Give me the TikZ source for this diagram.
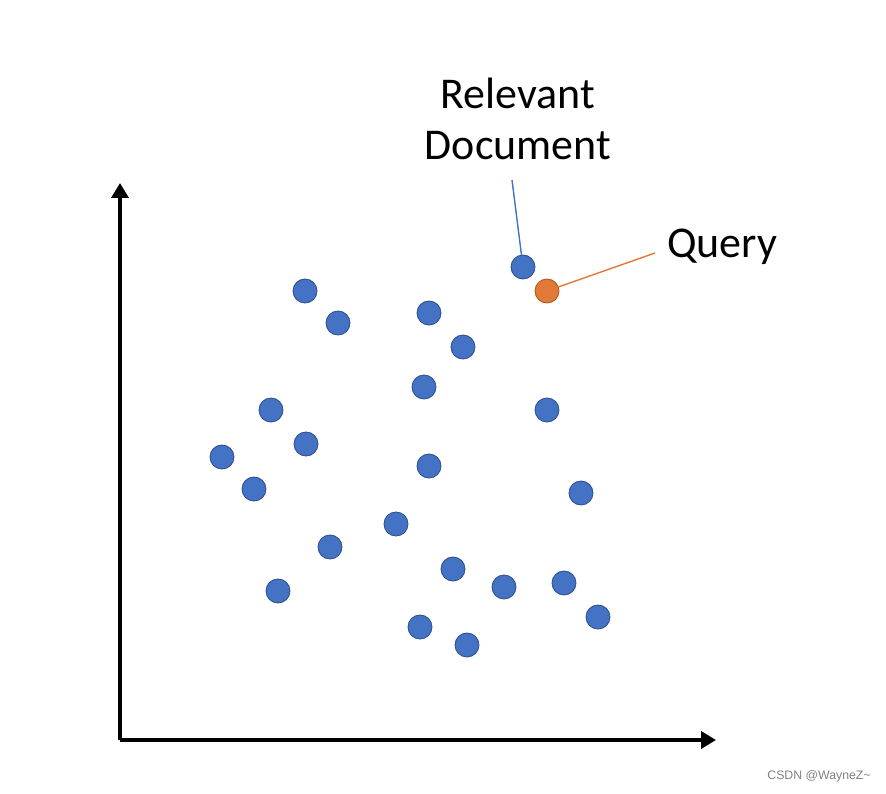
\documentclass[tikz,border=0pt]{standalone}
\usepackage{fontspec}
\setmainfont{Carlito}
\newfontfamily\markfont{Liberation Sans}
\usepackage{tikz}
\usetikzlibrary{positioning,arrows.meta}
\usepackage{xcolor}
\definecolor{docblue}{HTML}{4472C4}
\definecolor{docedge}{HTML}{2F528F}
\definecolor{qorange}{HTML}{E07A36}
\definecolor{qedge}{HTML}{AE5A21}

\begin{document}
\begin{tikzpicture}[
  x=0.02cm, y=-0.02cm,
  doc/.style={circle, draw=docedge, line width=0.5pt, fill=docblue, minimum size=0.48cm, inner sep=0pt},
  qry/.style={doc, draw=qedge, fill=qorange},
  axis/.style={-{Triangle[length=0.3cm,width=0.34cm]}, line width=2.8pt},
  lbl/.style={font=\fontsize{25}{29}\selectfont, align=center, inner sep=0pt},
]
  \useasboundingbox (0,0) rectangle (886,794);

  % axes
  \coordinate (origin) at (120,740);
  \coordinate (ytip)   at (120,183);
  \coordinate (xtip)   at (716,740);
  \draw[axis] (origin) -- (ytip);
  \draw[axis] (origin) -- (xtip);

  % documents
  \foreach \name/\px/\py in {d1/305/291, d2/338/323, d3/429/313, d4/463/347,
      d5/424/387, d6/271/410, d7/547/410, d8/306/444, d9/222/457, d10/429/466,
      d11/254/489, d12/581/493, d13/396/524, d14/330/547, d15/453/569,
      d16/504/587, d17/564/583, d18/278/591, d19/598/617, d20/420/627,
      d21/467/645}
    \node[doc] (\name) at (\px,\py) {};
  \node[doc] (rel)   at (523,267) {};
  \node[qry] (query) at (547,291) {};

  % labels
  \node[lbl] (reltxt) at (518,119) {Relevant\\Document};
  \node[lbl, anchor=west] (qtxt) at (667,247) {Query};
  \coordinate (relend) at (512,180);
  \coordinate (qend)   at (655,253);
  \draw[docblue, line width=0.8pt] (relend) -- (rel);
  \draw[qorange, line width=0.8pt] (qend) -- (query);

  \node[font=\markfont\fontsize{7}{8}\selectfont, text=gray] (mark) at (819,776) {CSDN @WayneZ\textasciitilde};
\end{tikzpicture}
\end{document}
